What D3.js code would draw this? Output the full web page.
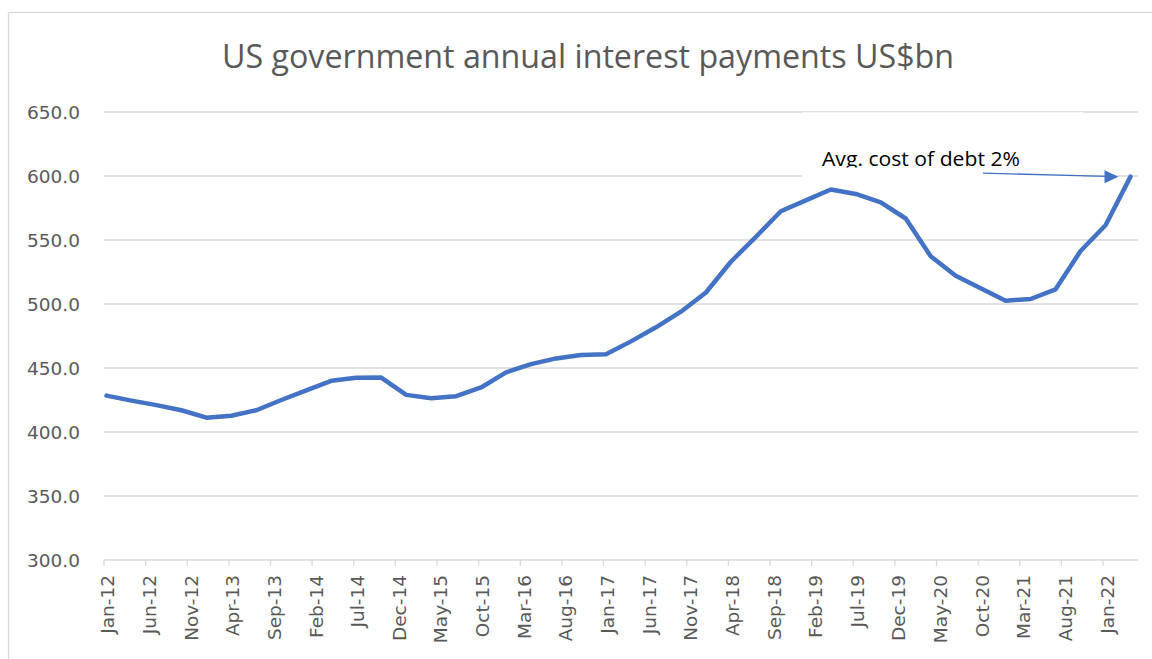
<!DOCTYPE html>
<html>
<head>
<meta charset="utf-8">
<script src="https://cdn.jsdelivr.net/npm/d3@7"></script>
<style>
  body { margin: 0; background: #fff; }
  svg { display: block; }
</style>
</head>
<body>
<div id="chart"></div>
<script>
// quarterly observations
var quarters = ["Jan-12","Apr-12","Jul-12","Oct-12","Jan-13","Apr-13","Jul-13","Oct-13",
    "Jan-14","Apr-14","Jul-14","Oct-14","Jan-15","Apr-15","Jul-15","Oct-15",
    "Jan-16","Apr-16","Jul-16","Oct-16","Jan-17","Apr-17","Jul-17","Oct-17",
    "Jan-18","Apr-18","Jul-18","Oct-18","Jan-19","Apr-19","Jul-19","Oct-19",
    "Jan-20","Apr-20","Jul-20","Oct-20","Jan-21","Apr-21","Jul-21","Oct-21",
    "Jan-22","Apr-22"];
var payments = [428.4, 424.5, 421.0, 417.0, 411.2, 412.7, 417.0, 425.0,
    432.5, 440.0, 442.3, 442.5, 429.0, 426.3, 428.0, 434.8,
    446.6, 453.0, 457.5, 460.2, 460.7, 470.8, 481.8, 494.0,
    509.0, 533.0, 552.5, 572.5, 581.0, 589.5, 586.0, 579.4,
    566.8, 537.3, 522.0, 512.3, 502.6, 503.9, 511.5, 541.4,
    561.5, 599.5];
var yTicks = [300, 350, 400, 450, 500, 550, 600, 650];
var tickLabels = ["Jan-12","Jun-12","Nov-12","Apr-13","Sep-13","Feb-14","Jul-14","Dec-14",
    "May-15","Oct-15","Mar-16","Aug-16","Jan-17","Jun-17","Nov-17","Apr-18",
    "Sep-18","Feb-19","Jul-19","Dec-19","May-20","Oct-20","Mar-21","Aug-21","Jan-22"];
var titleText = "US government annual interest payments US$bn";
var noteText = "Avg. cost of debt 2%";

var w = 1152, h = 659;
var parse = d3.timeParse("%b-%y");
function monthIndex(s) {
    var d = parse(s);
    return (d.getFullYear() - 2012) * 12 + d.getMonth();
}

var data = quarters.map(function (q, i) {
    return { m: monthIndex(q), v: payments[i] };
});

var x = d3.scaleLinear().domain([0, 124.2]).range([104, 1138]);
var y = d3.scaleLinear().domain([300, 650]).range([560, 112]);

var svg = d3.select("#chart").append("svg")
    .attr("width", w)
    .attr("height", h);

// chart area border
svg.append("rect")
    .attr("x", 8.5).attr("y", 12.5)
    .attr("width", 1200).attr("height", 700)
    .attr("fill", "#fff")
    .attr("stroke", "#d9d9d9")
    .attr("stroke-width", 1.3);

svg.append("text")
    .attr("x", 588).attr("y", 67.5)
    .attr("text-anchor", "middle")
    .attr("font-family", "'Open Sans', sans-serif")
    .attr("font-size", 32)
    .attr("fill", "#595959")
    .attr("textLength", 732)
    .attr("lengthAdjust", "spacingAndGlyphs")
    .text(titleText);

// gridlines
svg.selectAll("line.grid")
    .data(yTicks.slice(1))
    .enter()
    .append("line")
    .attr("class", "grid")
    .attr("x1", x.range()[0]).attr("x2", x.range()[1])
    .attr("y1", function (d) { return y(d); })
    .attr("y2", function (d) { return y(d); })
    .attr("stroke", "#d9d9d9")
    .attr("stroke-width", 1.3);

svg.selectAll("text.ylab")
    .data(yTicks)
    .enter()
    .append("text")
    .attr("class", "ylab")
    .attr("x", 80)
    .attr("y", function (d) { return y(d); })
    .attr("dy", "0.36em")
    .attr("text-anchor", "end")
    .attr("font-family", "'DejaVu Sans', sans-serif")
    .attr("font-size", 18.5)
    .attr("fill", "#595959")
    .text(function (d) { return d3.format(".1f")(d); });

// x axis line and ticks
svg.append("line")
    .attr("x1", x.range()[0]).attr("x2", x.range()[1])
    .attr("y1", y(300)).attr("y2", y(300))
    .attr("stroke", "#d9d9d9")
    .attr("stroke-width", 1.5);

svg.selectAll("line.xtick")
    .data(tickLabels)
    .enter()
    .append("line")
    .attr("class", "xtick")
    .attr("x1", function (d) { return x(monthIndex(d)); })
    .attr("x2", function (d) { return x(monthIndex(d)); })
    .attr("y1", y(300)).attr("y2", y(300) + 6)
    .attr("stroke", "#d9d9d9")
    .attr("stroke-width", 1.3);

svg.selectAll("text.xlab")
    .data(tickLabels)
    .enter()
    .append("text")
    .attr("class", "xlab")
    .attr("transform", function (d) {
        return "translate(" + (x(monthIndex(d)) + 4) + ",575) rotate(-90)";
    })
    .attr("dy", "0.35em")
    .attr("text-anchor", "end")
    .attr("font-family", "'DejaVu Sans', sans-serif")
    .attr("font-size", 18.5)
    .attr("fill", "#595959")
    .text(function (d) { return d; });

// annotation box sits over the top gridlines
svg.append("rect")
    .attr("x", 802).attr("y", 112.4)
    .attr("width", 281).attr("height", 66)
    .attr("fill", "#fff");

svg.append("defs").append("clipPath")
    .attr("id", "noteclip")
    .append("rect")
    .attr("x", 802).attr("y", 112)
    .attr("width", 281).attr("height", 55.5);

svg.append("text")
    .attr("clip-path", "url(#noteclip)")
    .attr("x", 822).attr("y", 166)
    .attr("font-family", "'Open Sans', sans-serif")
    .attr("font-size", 20)
    .attr("fill", "#000")
    .attr("textLength", 198)
    .attr("lengthAdjust", "spacingAndGlyphs")
    .text(noteText);

var line = d3.line()
    .x(function (d) { return x(d.m + 0.3); })
    .y(function (d) { return y(d.v); });

svg.append("path")
    .datum(data)
    .attr("d", line)
    .attr("fill", "none")
    .attr("stroke", "#4472C4")
    .attr("stroke-width", 4.5)
    .attr("stroke-linejoin", "round")
    .attr("stroke-linecap", "round");

// arrow toward the last point
var last = data[data.length - 1];
var tipX = x(last.m + 0.3) - 12, tipY = y(last.v);
svg.append("line")
    .attr("x1", 983).attr("y1", tipY - 3.5)
    .attr("x2", tipX - 11).attr("y2", tipY - 0.3)
    .attr("stroke", "#4472C4")
    .attr("stroke-width", 1.3);

svg.append("path")
    .attr("d", "M" + tipX + "," + tipY + " L" + (tipX - 14) + "," + (tipY - 6.5) +
        " L" + (tipX - 14) + "," + (tipY + 6.5) + " Z")
    .attr("fill", "#4472C4");
</script>
</body>
</html>
